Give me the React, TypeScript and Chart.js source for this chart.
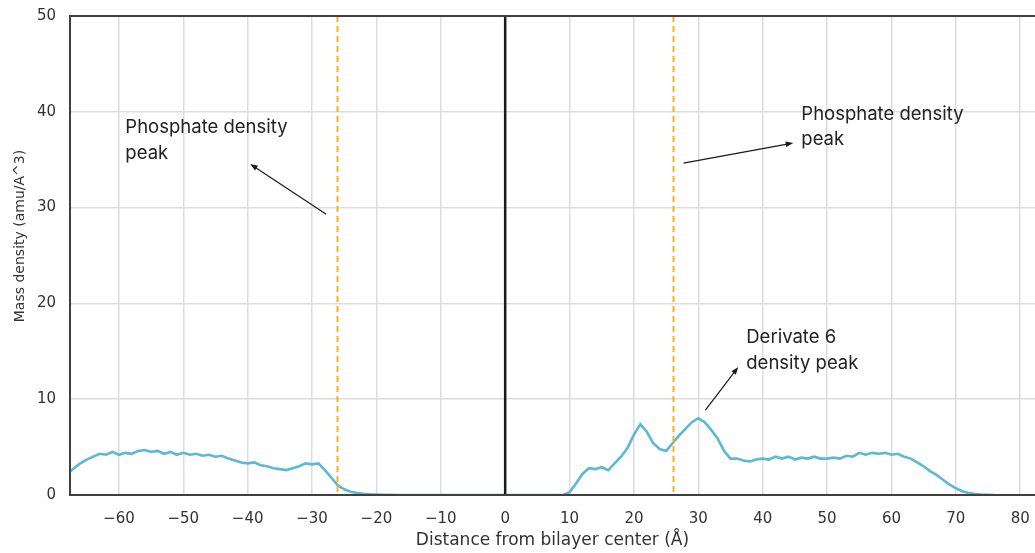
import React, { useEffect, useRef } from "react";
import { Chart, registerables } from "chart.js";

Chart.register(...registerables);

// Distance from bilayer center (Å)
const distances: number[] = [
  -68, -67, -66, -65, -64, -63, -62, -61, -60, -59, -58, -57, -56, -55, -54, -53, -52, -51, -50, -49,
  -48, -47, -46, -45, -44, -43, -42, -41, -40, -39, -38, -37, -36, -35, -34, -33, -32, -31, -30, -29,
  -28, -27, -26, -25, -24, -23, -22, -21, -20, -19, -18, -17, -16, -15, -14, -13, -12, -11, -10, -9,
  -8, -7, -6, -5, -4, -3, -2, -1, 0, 1, 2, 3, 4, 5, 6, 7, 8, 9, 10, 11,
  12, 13, 14, 15, 16, 17, 18, 19, 20, 21, 22, 23, 24, 25, 26, 27, 28, 29, 30, 31,
  32, 33, 34, 35, 36, 37, 38, 39, 40, 41, 42, 43, 44, 45, 46, 47, 48, 49, 50, 51,
  52, 53, 54, 55, 56, 57, 58, 59, 60, 61, 62, 63, 64, 65, 66, 67, 68, 69, 70, 71,
  72, 73, 74, 75, 76,
];

// Mass density (amu/Å^3) of Derivate 6
const density: number[] = [
  2.2, 2.8, 3.3, 3.7, 4.0, 4.3, 4.2, 4.5, 4.2, 4.4, 4.3, 4.6, 4.7, 4.5, 4.6, 4.3, 4.5, 4.2, 4.4, 4.2,
  4.3, 4.1, 4.2, 4.0, 4.1, 3.8, 3.6, 3.4, 3.3, 3.4, 3.1, 3.0, 2.8, 2.7, 2.6, 2.8, 3.0, 3.3, 3.2, 3.3,
  2.6, 1.8, 1.0, 0.6, 0.35, 0.2, 0.12, 0.07, 0.04, 0.02, 0.01, 0, 0, 0, 0, 0, 0, 0, 0, 0,
  0, 0, 0, 0, 0, 0, 0, 0, 0, 0, 0, 0, 0, 0, 0, 0, 0, 0, 0.3, 1.2,
  2.2, 2.8, 2.7, 2.9, 2.6, 3.3, 4.0, 4.9, 6.3, 7.4, 6.6, 5.4, 4.8, 4.6, 5.4, 6.2, 6.9, 7.6, 8.0, 7.6,
  6.8, 5.9, 4.6, 3.8, 3.8, 3.6, 3.5, 3.7, 3.8, 3.7, 4.0, 3.8, 4.0, 3.7, 3.9, 3.8, 4.0, 3.8, 3.8, 3.9,
  3.8, 4.1, 4.0, 4.4, 4.2, 4.4, 4.3, 4.4, 4.2, 4.3, 4.0, 3.8, 3.4, 3.0, 2.5, 2.1, 1.6, 1.1, 0.7, 0.4,
  0.2, 0.1, 0.05, 0.02, 0,
];

const X_TICKS: number[] = [-60, -50, -40, -30, -20, -10, 0, 10, 20, 30, 40, 50, 60, 70, 80];
const X_MIN = -67.6;
const X_MAX = 82.3;
const Y_MIN = 0;
const Y_MAX = 50;

const X_TITLE = "Distance from bilayer center (Å)";
const Y_TITLE = "Mass density (amu/A^3)";

const CENTER_LINE = 0;
const PHOSPHATE_PEAKS: number[] = [-26.2, 26.0];

const annotationTexts: string[][] = [
  ["Phosphate density", "peak"],
  ["Phosphate density", "peak"],
  ["Derivate 6", "density peak"],
];
// [x, line1 y, line2 y]
const annotationTextPos: number[][] = [
  [-59.0, 38.4, 35.7],
  [46.0, 39.7, 37.1],
  [37.45, 16.4, 13.7],
];
// [tailX, tailY, headX, headY]
const arrows: number[][] = [
  [-27.8, 29.3, -39.6, 34.55],
  [27.7, 34.65, 44.75, 36.75],
  [31.1, 8.87, 36.2, 13.36],
];

const fmt = (v: number) => (v < 0 ? "\u2212" + Math.abs(v) : String(v));

const overlayPlugin = {
  id: "overlay",
  afterDatasetsDraw(chart: any) {
    const { ctx, chartArea, scales } = chart;
    const xs = scales.x;
    const ys = scales.y;
    ctx.save();
    // phosphate peaks
    ctx.strokeStyle = "#fbb023";
    ctx.lineWidth = 2;
    ctx.setLineDash([6, 4]);
    PHOSPHATE_PEAKS.forEach((p) => {
      const px = Math.round(xs.getPixelForValue(p)) + 0.5;
      ctx.beginPath();
      ctx.moveTo(px, chartArea.top);
      ctx.lineTo(px, chartArea.bottom);
      ctx.stroke();
    });
    ctx.setLineDash([]);
    // center line
    ctx.strokeStyle = "#1a1a1a";
    ctx.lineWidth = 2.5;
    const cx = xs.getPixelForValue(CENTER_LINE);
    ctx.beginPath();
    ctx.moveTo(cx, chartArea.top);
    ctx.lineTo(cx, chartArea.bottom);
    ctx.stroke();
    // frame
    ctx.strokeStyle = "#404040";
    ctx.lineWidth = 2;
    ctx.beginPath();
    ctx.moveTo(chartArea.right + 5, chartArea.top);
    ctx.lineTo(chartArea.left, chartArea.top);
    ctx.lineTo(chartArea.left, chartArea.bottom);
    ctx.lineTo(chartArea.right + 5, chartArea.bottom);
    ctx.stroke();
    // arrows
    ctx.strokeStyle = "#1a1a1a";
    ctx.fillStyle = "#1a1a1a";
    ctx.lineWidth = 1.2;
    arrows.forEach((a) => {
      const x1 = xs.getPixelForValue(a[0]);
      const y1 = ys.getPixelForValue(a[1]);
      const x2 = xs.getPixelForValue(a[2]);
      const y2 = ys.getPixelForValue(a[3]);
      const ang = Math.atan2(y2 - y1, x2 - x1);
      const hl = 8;
      ctx.beginPath();
      ctx.moveTo(x1, y1);
      ctx.lineTo(x2 - Math.cos(ang) * hl * 0.6, y2 - Math.sin(ang) * hl * 0.6);
      ctx.stroke();
      ctx.beginPath();
      ctx.moveTo(x2, y2);
      ctx.lineTo(x2 - hl * Math.cos(ang - 0.35), y2 - hl * Math.sin(ang - 0.35));
      ctx.lineTo(x2 - hl * Math.cos(ang + 0.35), y2 - hl * Math.sin(ang + 0.35));
      ctx.closePath();
      ctx.fill();
    });
    // annotation texts
    ctx.fillStyle = "#222222";
    ctx.font = "18.5px Inter, 'Noto Sans', sans-serif";
    ctx.textAlign = "left";
    ctx.textBaseline = "middle";
    annotationTexts.forEach((lines, i) => {
      const pos = annotationTextPos[i];
      const tx = xs.getPixelForValue(pos[0]);
      lines.forEach((ln, j) => {
        ctx.fillText(ln, tx, ys.getPixelForValue(pos[1 + j]));
      });
    });
    // y-axis title
    ctx.fillStyle = "#333333";
    ctx.font = "14px 'DejaVu Sans'";
    ctx.textAlign = "center";
    ctx.translate(20, 236);
    ctx.rotate(-Math.PI / 2);
    ctx.fillText(Y_TITLE, 0, 0);
    ctx.restore();
  },
};

export default function App() {
  const ref = useRef<HTMLCanvasElement>(null);
  useEffect(() => {
    if (!ref.current) return;
    const chart = new Chart(ref.current, {
      type: "line",
      data: {
        datasets: [
          {
            label: "Derivate 6",
            data: distances.map((x, i) => ({ x, y: density[i] })),
            borderColor: "#5cb8d4",
            borderWidth: 2.6,
            pointRadius: 0,
            tension: 0,
            fill: false,
          },
        ],
      },
      options: {
        responsive: false,
        animation: false,
        layout: { padding: { top: 16, right: 0, left: 0, bottom: 0 } },
        plugins: { legend: { display: false }, tooltip: { enabled: false } },
        scales: {
          x: {
            type: "linear",
            min: X_MIN,
            max: X_MAX,
            afterFit: (s: any) => {
              s.height = 58;
              s.paddingLeft = 0;
              s.paddingRight = 0;
            },
            afterBuildTicks: (s: any) => {
              s.ticks = X_TICKS.map((v) => ({ value: v }));
            },
            grid: { color: "#dddddd", lineWidth: 1.5, drawTicks: false },
            border: { display: false },
            ticks: {
              padding: 15,
              color: "#333333",
              font: { family: "'DejaVu Sans'", size: 15 },
              callback: (v: any) => fmt(Number(v)),
            },
            title: {
              display: true,
              text: X_TITLE,
              color: "#333333",
              font: { family: "'DejaVu Sans'", size: 17 },
              padding: { top: 0, bottom: 2 },
            },
          },
          y: {
            min: Y_MIN,
            max: Y_MAX,
            afterFit: (s: any) => {
              s.width = 70;
              s.paddingTop = 0;
              s.paddingBottom = 0;
            },
            grid: { color: "#dddddd", lineWidth: 1.5, drawTicks: false },
            border: { display: false },
            ticks: {
              stepSize: 10,
              padding: 14,
              color: "#333333",
              font: { family: "'DejaVu Sans'", size: 15 },
            },
            title: { display: false },
          },
        },
      },
      plugins: [overlayPlugin],
    });
    return () => chart.destroy();
  }, []);
  return (
    <div style={{ position: "absolute", left: 0, top: 0, width: 1035, height: 553, background: "#fff" }}>
      <canvas ref={ref} width={1035} height={553} style={{ display: "block" }} />
    </div>
  );
}
